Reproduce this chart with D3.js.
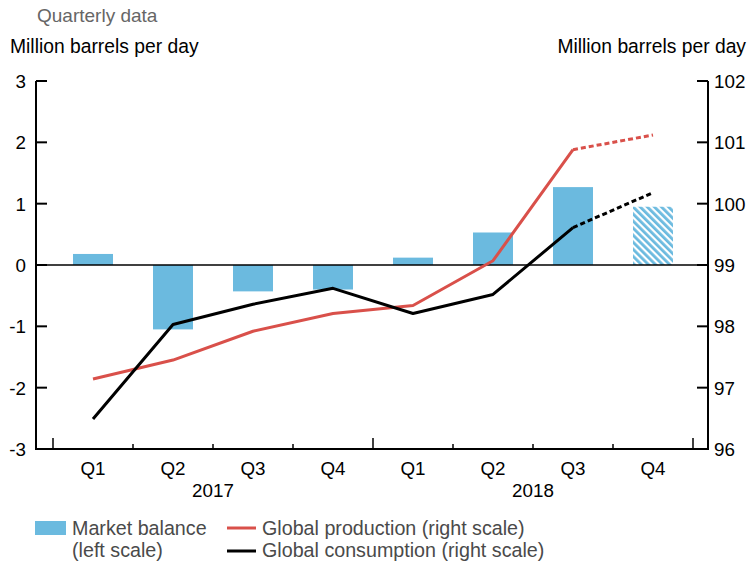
<!DOCTYPE html>
<html>
<head>
<meta charset="utf-8">
<script src="https://cdn.jsdelivr.net/npm/d3@7"></script>
<style>
	body { margin: 0; background: #fff; }
	text { font-family: "Liberation Sans", Arial, sans-serif; }
</style>
</head>
<body>
<div id="chart"></div>
<script>
// data
var quarters = ["Q1", "Q2", "Q3", "Q4", "Q1", "Q2", "Q3", "Q4"];
var years = ["2017", "2018"];
var balance = [0.18, -1.05, -0.43, -0.40, 0.12, 0.53, 1.27, 0.95];
var production = [97.14, 97.45, 97.92, 98.21, 98.34, 99.07, 100.88, 101.12];
var consumption = [96.49, 98.03, 98.36, 98.62, 98.21, 98.52, 99.61, 100.18];
var leftTicks = [3, 2, 1, 0, -1, -2, -3];
var rightTicks = [102, 101, 100, 99, 98, 97, 96];

var width = 752,
	height = 565,
	FONT = "18.8px",
	BLUE = "#6bbadf",
	RED = "#d9504a";

var svg = d3.select("#chart").append("svg")
	.attr("width", width)
	.attr("height", height);

var defs = svg.append("defs");
var hatch = defs.append("pattern")
	.attr("id", "hatch")
	.attr("patternUnits", "userSpaceOnUse")
	.attr("width", 5)
	.attr("height", 5)
	.attr("patternTransform", "rotate(-45)");
hatch.append("rect").attr("width", 5).attr("height", 5).style("fill", "#fff");
hatch.append("rect").attr("width", 2.8).attr("height", 5).style("fill", BLUE);

var idx = d3.range(quarters.length);

var x = d3.scaleBand()
	.domain(idx)
	.range([53, 693])
	.paddingInner(0.5)
	.paddingOuter(0.25);

var yL = d3.scaleLinear().domain([-3, 3]).range([449, 81]);
var yR = d3.scaleLinear().domain([96, 102]).range([449, 81]);

var cx = function(i) { return x(i) + x.bandwidth() / 2; };

// titles
svg.append("text")
	.attr("x", 37).attr("y", 22)
	.text("Quarterly data")
	.style("fill", "#666")
	.style("font-size", "19px");

svg.append("text")
	.attr("x", 10).attr("y", 53)
	.text("Million barrels per day")
	.style("font-size", "19.3px");

svg.append("text")
	.attr("x", 746).attr("y", 53)
	.attr("text-anchor", "end")
	.text("Million barrels per day")
	.style("font-size", "19.3px");

// bars
var bars = svg.append("g");
bars.selectAll("rect")
	.data(balance)
	.enter()
	.append("rect")
	.attr("x", function(d, i) { return x(i); })
	.attr("width", x.bandwidth())
	.attr("y", function(d) { return yL(Math.max(0, d)); })
	.attr("height", function(d) { return Math.abs(yL(d) - yL(0)); })
	.style("fill", function(d, i) { return i == balance.length - 1 ? "url(#hatch)" : BLUE; });

// zero line
svg.append("line")
	.attr("x1", 36).attr("x2", 708)
	.attr("y1", yL(0)).attr("y2", yL(0))
	.style("stroke", "#000")
	.style("stroke-width", 1.5);

// lines: solid up to Q3 2018, dashed to Q4
var line = d3.line()
	.x(function(d) { return cx(d.i); })
	.y(function(d) { return yR(d.v); });

var drawSeries = function(values, color) {
	var pts = values.map(function(v, i) { return { i: i, v: v }; });
	var n = pts.length;
	svg.append("path")
		.attr("d", line(pts.slice(0, n - 1)))
		.style("fill", "none")
		.style("stroke", color)
		.style("stroke-width", 3)
		.style("stroke-linejoin", "round");
	svg.append("path")
		.attr("d", line(pts.slice(n - 2)))
		.style("fill", "none")
		.style("stroke", color)
		.style("stroke-width", 3)
		.style("stroke-dasharray", "5,3");
};

drawSeries(production, RED);
drawSeries(consumption, "#000");

// axes
var axes = svg.append("g")
	.style("stroke", "#000")
	.style("stroke-width", 2)
	.style("fill", "none");

axes.append("path")
	.attr("d", "M36," + yL(3) + "V" + yL(-3) + "H708V" + yR(102));

axes.selectAll(".lt")
	.data(leftTicks)
	.enter()
	.append("line")
	.attr("x1", 36).attr("x2", 47)
	.attr("y1", function(d) { return yL(d); })
	.attr("y2", function(d) { return yL(d); });

axes.selectAll(".rt")
	.data(rightTicks)
	.enter()
	.append("line")
	.attr("x1", 697).attr("x2", 708)
	.attr("y1", function(d) { return yR(d); })
	.attr("y2", function(d) { return yR(d); });

// category boundaries on the x axis, taller at year edges
var bounds = d3.range(quarters.length + 1);
axes.selectAll(".xt")
	.data(bounds)
	.enter()
	.append("line")
	.attr("x1", function(d) { return 53 + d * x.step(); })
	.attr("x2", function(d) { return 53 + d * x.step(); })
	.attr("y1", yL(-3))
	.attr("y2", function(d) { return yL(-3) - (d % 4 == 0 ? 11 : 5); })
	.style("stroke-width", 1.5);

svg.selectAll(".ll")
	.data(leftTicks)
	.enter()
	.append("text")
	.attr("x", 26)
	.attr("y", function(d) { return yL(d) + 7; })
	.attr("text-anchor", "end")
	.text(function(d) { return d; })
	.style("font-size", FONT);

svg.selectAll(".rl")
	.data(rightTicks)
	.enter()
	.append("text")
	.attr("x", 714)
	.attr("y", function(d) { return yR(d) + 7; })
	.text(function(d) { return d; })
	.style("font-size", FONT);

svg.selectAll(".ql")
	.data(quarters)
	.enter()
	.append("text")
	.attr("x", function(d, i) { return cx(i); })
	.attr("y", 475)
	.attr("text-anchor", "middle")
	.text(function(d) { return d; })
	.style("font-size", FONT);

svg.selectAll(".yl")
	.data(years)
	.enter()
	.append("text")
	.attr("x", function(d, i) { return 53 + (i * 4 + 2) * x.step(); })
	.attr("y", 497)
	.attr("text-anchor", "middle")
	.text(function(d) { return d; })
	.style("font-size", FONT);

// legend
var legend = svg.append("g").style("font-size", "19.7px").style("fill", "#4a4a4a");

legend.append("rect")
	.attr("x", 35).attr("y", 521)
	.attr("width", 31).attr("height", 14)
	.style("fill", BLUE);
legend.append("text").attr("x", 72).attr("y", 535).text("Market balance");
legend.append("text").attr("x", 72).attr("y", 557).text("(left scale)");

legend.append("line")
	.attr("x1", 227).attr("x2", 256)
	.attr("y1", 528).attr("y2", 528)
	.style("stroke", RED).style("stroke-width", 3);
legend.append("text").attr("x", 262).attr("y", 535).text("Global production (right scale)");

legend.append("line")
	.attr("x1", 227).attr("x2", 256)
	.attr("y1", 551).attr("y2", 551)
	.style("stroke", "#000").style("stroke-width", 3);
legend.append("text").attr("x", 262).attr("y", 557).text("Global consumption (right scale)");
</script>
</body>
</html>
